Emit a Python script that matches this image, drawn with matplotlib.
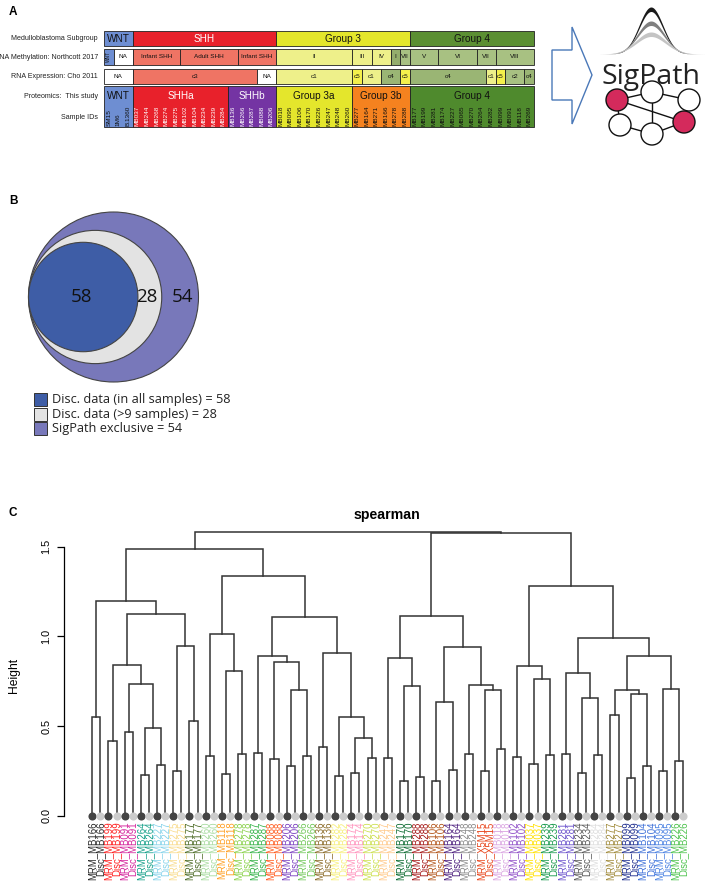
import numpy as np
import matplotlib
matplotlib.use("Agg")
import matplotlib.pyplot as plt
from matplotlib.patches import Rectangle, Circle, Polygon

# ---------------- panel A data ----------------
subgroups = ["WNT", "SHH", "Group 3", "Group 4"]
subgroup_n = [3, 15, 14, 13]
meth_labels = ["WNT", "NA", "Infant SHH", "Adult SHH", "Infant SHH", "II", "III", "IV", "I", "VII",
               "V", "VI", "VII", "VIII"]
meth_n = [1, 2, 5, 6, 4, 8, 2, 2, 1, 1, 3, 4, 2, 4]
rna_labels = ["NA", "c3", "NA", "c1", "c5", "c1", "c4", "c5", "c4", "c1", "c5", "c2", "c4"]
rna_n = [3, 13, 2, 8, 1, 2, 2, 1, 8, 1, 1, 2, 1]
prot_groups = ["WNT", "SHHa", "SHHb", "Group 3a", "Group 3b", "Group 4"]
prot_ids = [
    ["SM15", "1M6", "B.1360"],
    ["MB037", "MB244", "MB268", "MB274", "MB275", "MB102", "MB104", "MB234", "MB239", "MB284"],
    ["MB136", "MB266", "MB287", "MB088", "MB206"],
    ["MB018", "MB095", "MB106", "MB170", "MB226", "MB247", "MB248", "MB260"],
    ["MB277", "MB164", "MB271", "MB166", "MB278", "MB288"],
    ["MB177", "MB199", "MB281", "MB174", "MB227", "MB065", "MB270", "MB264", "MB282", "MB099",
     "MB091", "MB118", "MB269"],
]
row_names = ["Medulloblastoma Subgroup", "DNA Methylation: Northcott 2017", "RNA Expression: Cho 2011",
             "Proteomics:  This study", "Sample IDs"]

# ---------------- panel B data ----------------
venn_labels = ["Disc. data (in all samples)", "Disc. data (>9 samples)", "SigPath exclusive"]
venn_counts = [58, 28, 54]

# ---------------- panel C data ----------------
pair_ids = ["MB166", "MB199", "MB091", "MB264", "MB227", "MB275", "MB177", "MB260", "MB118", "MB278",
            "MB287", "MB088", "MB206", "MB266", "MB136", "MB282", "MB174", "MB270", "MB247", "MB170",
            "MB288", "MB106", "MB164", "MB248", "X5M15", "MB018", "MB102", "MB037", "MB239", "MB281",
            "MB234", "MB284", "MB277", "MB099", "MB104", "MB095", "MB226"]
pair_height = [0.55, 0.42, 0.47, 0.226, 0.284, 0.252, 0.53, 0.332, 0.232, 0.343,
               0.353, 0.316, 0.277, 0.334, 0.384, 0.223, 0.238, 0.321, 0.325, 0.197,
               0.219, 0.195, 0.256, 0.343, 0.249, 0.371, 0.330, 0.288, 0.342, 0.347,
               0.238, 0.342, 0.564, 0.213, 0.280, 0.249, 0.304]
pair_color = ["#262626", "#ff1f1f", "#d4229b", "#16a089", "#86d3ea", "#f9dc8e", "#4d6b26", "#a8dca0",
              "#ffa024", "#8cd24e", "#36b34a", "#ff5b1e", "#7b41c0", "#72c85a", "#8a6a27", "#f7ef7b",
              "#ff93bd", "#cde052", "#ffca8c", "#0c6a30", "#a51818", "#b3561b", "#4a1c7c", "#8c8c8c",
              "#e8461c", "#dba6e2", "#9050c8", "#ffe100", "#17994b", "#6b52cc", "#565656", "#dedede",
              "#a08a3a", "#1f2e8e", "#3c6fd8", "#4b82e2", "#4dc34d"]
# merges: node ids 0..36 are the pairs, new nodes get ids from 37 upward
merge_a = [3, 2, 1, 5, 39, 0, 8, 7, 12, 11, 10, 16, 15, 14, 47, 44, 42,
           19, 18, 21, 24, 23, 56, 55, 27, 26, 30, 29, 33, 32, 35, 66, 64, 62, 60, 53]
merge_b = [4, 37, 38, 6, 40, 41, 9, 43, 13, 45, 46, 17, 48, 49, 50, 51, 52,
           20, 54, 22, 25, 57, 58, 59, 28, 61, 31, 63, 34, 65, 36, 67, 68, 69, 70, 71]
merge_h = [0.49, 0.733, 0.84, 0.947, 1.123, 1.197, 0.808, 1.014, 0.70, 0.856, 0.891, 0.436, 0.553,
           0.91, 1.108, 1.335, 1.487, 0.722, 0.878, 0.637, 0.704, 0.728, 0.943, 1.116, 0.761, 0.834,
           0.655, 0.798, 0.678, 0.702, 0.709, 0.893, 0.993, 1.283, 1.574, 1.583]

# ---------------- styles ----------------
cell_colors = {
    "WNT": "#6e8ed2", "SHH": "#e8212b", "Group 3": "#e4e62c", "Group 4": "#5b8f33",
    "NA": "#ffffff", "Infant SHH": "#ef7464", "Adult SHH": "#ef7464",
    "II": "#eef08a", "III": "#eef08a", "IV": "#eef08a", "I": "#94ad6c",
    "V": "#a8c182", "VI": "#a8c182", "VII": "#a8c182", "VIII": "#a8c182",
    "c1": "#eef08a", "c3": "#ef7464", "c5": "#f4f04c", "c4": "#9ab574", "c2": "#a8c182",
}
prot_colors = {"WNT": "#6e8ed2", "SHHa": "#e8212b", "SHHb": "#7434a3", "Group 3a": "#e4e62c",
               "Group 3b": "#f5821f", "Group 4": "#4f8a2d"}
white_text = {"SHH", "SHHa", "SHHb"}
ARIAL = "Liberation Sans"
SEGOE = "Open Sans"

fig = plt.figure(figsize=(7.05, 8.86), dpi=100)
ax0 = fig.add_axes([0, 0, 1, 1])
ax0.set_xlim(0, 705)
ax0.set_ylim(886, 0)
ax0.axis("off")

X0, X1 = 104, 534
n_samples = sum(len(g) for g in prot_ids)
CW = (X1 - X0) / n_samples
EDGE = "#222222"


def draw_row(labels, counts, y0, y1, fs, colors, text_y=None):
    start = 0
    for lab, n in zip(labels, counts):
        x = X0 + start * CW
        w = n * CW
        ax0.add_patch(Rectangle((x, y0), w, y1 - y0, facecolor=colors[lab], edgecolor=EDGE, lw=0.6))
        ty = (y0 + y1) / 2 if text_y is None else text_y
        col = "white" if lab in white_text else "#111111"
        if n == 1 and lab == "WNT":
            ax0.text(x + w / 2, ty, lab, fontsize=3.4, family=ARIAL, rotation=90,
                     ha="center", va="center", color=col)
        else:
            ax0.text(x + w / 2, ty, lab, fontsize=fs, family=ARIAL, ha="center", va="center", color=col)
        start += n


ax0.text(13, 12, "A", fontsize=8.5, fontweight="bold", family=ARIAL, ha="center", va="center")
draw_row(subgroups, subgroup_n, 31, 46, 7.2, cell_colors)
draw_row(meth_labels, meth_n, 48.5, 65, 4.6, cell_colors)
draw_row(rna_labels, rna_n, 68.5, 83.5, 4.6, cell_colors)
draw_row(prot_groups, [len(g) for g in prot_ids], 86, 127, 7.2, prot_colors, text_y=96)

start = 0
for grp, ids in zip(prot_groups, prot_ids):
    col = "white" if grp in white_text else "#111111"
    for sid in ids:
        ax0.text(X0 + (start + 0.5) * CW, 125.5, sid, fontsize=4.6, family=ARIAL, rotation=90,
                 ha="center", va="bottom", color=col)
        start += 1

# the left edge of the methylation label runs off the page, as in the source figure
for name, y in zip(row_names, [38.5, 57, 76, 96, 117]):
    ax0.text(98, y, name, fontsize=5.1, family=ARIAL, ha="right", va="center", color="#222222")

# arrow
ax0.add_patch(Polygon([(552, 50), (572, 50), (572, 27), (592, 75), (572, 124), (572, 100), (552, 100)],
                      closed=True, facecolor="white", edgecolor="#4a78b8", lw=1.0))

# SigPath logo
xs = np.linspace(600, 705, 300)
for amp, sig, col in [(47, 17, "#1a1a1a"), (33, 19, "#808080"), (22, 21, "#c4c4c4")]:
    top = 54 - amp * np.exp(-((xs - 651) / sig) ** 2)
    bot = 54 - (amp - 4.5) * np.exp(-((xs - 651) / (sig * 0.98)) ** 2)
    ax0.fill_between(xs, top, bot, color=col, lw=0)
ax0.text(651, 84, "SigPath", fontsize=20.5, family=SEGOE, ha="center", va="baseline", color="#222222")
nodes = {"L": (617, 100), "T": (652, 92), "R": (689, 100), "BL": (620, 125), "BR": (684, 122),
         "B": (652, 134)}
edges = [("L", "T"), ("T", "R"), ("T", "B"), ("L", "BL"), ("BL", "B"), ("B", "BR"), ("R", "BR"),
         ("L", "BR")]
for a, b in edges:
    ax0.plot([nodes[a][0], nodes[b][0]], [nodes[a][1], nodes[b][1]], color="#111111", lw=1.0, zorder=2)
for k, (x, y) in nodes.items():
    fc = "#d42a5c" if k in ("L", "BR") else "white"
    ax0.add_patch(Circle((x, y), 11, facecolor=fc, edgecolor="#111111", lw=1.0, zorder=3))

# ---------------- panel B ----------------
ax0.text(13, 201, "B", fontsize=8.5, fontweight="bold", family=ARIAL, ha="center", va="center")
venn_fill = ["#3e5da6", "#e3e3e3", "#7878ba"]
cum = np.cumsum(venn_counts)
R_out = 85
radii = R_out * np.sqrt(cum / cum[-1])
left_edge, cy = 28.5, 297
for r, fc in zip(radii[::-1], venn_fill[::-1]):
    ax0.add_patch(Circle((left_edge + r, cy), r, facecolor=fc, edgecolor="#444444", lw=0.8))
rights = left_edge + 2 * radii
text_x = [left_edge + radii[0] - 2, (rights[0] + rights[1]) / 2 - 3, (rights[1] + rights[2]) / 2 + 2]
for tx, v in zip(text_x, venn_counts):
    ax0.text(tx, cy, str(v), fontsize=13.5, family=SEGOE, ha="center", va="center", color="#111111")
for i, (lab, v) in enumerate(zip(venn_labels, venn_counts)):
    y = 399.5 + i * 14.7
    ax0.add_patch(Rectangle((34, y - 6.5), 13, 13, facecolor=venn_fill[i], edgecolor="#333333", lw=0.7))
    ax0.text(52, y, f"{lab} = {v}", fontsize=9.2, family=SEGOE, ha="left", va="center", color="#222222")

# ---------------- panel C ----------------
ax0.text(13, 513, "C", fontsize=8.5, fontweight="bold", family=ARIAL, ha="center", va="center")
ax = fig.add_axes([64 / 705, (886 - 830) / 886, 636 / 705, 305 / 886])
ax.patch.set_visible(False)
LINE = "#333333"
node_x, node_h = {}, {}
for k, h in enumerate(pair_height):
    xa, xb = 2 * k, 2 * k + 1
    ax.plot([xa, xa, xb, xb], [0, h, h, 0], color=LINE, lw=1.1, solid_joinstyle="miter")
    node_x[k] = (xa + xb) / 2
    node_h[k] = h
for j, (a, b, h) in enumerate(zip(merge_a, merge_b, merge_h)):
    nid = len(pair_height) + j
    ax.plot([node_x[a], node_x[a], node_x[b], node_x[b]], [node_h[a], h, h, node_h[b]],
            color=LINE, lw=1.1, solid_joinstyle="miter")
    node_x[nid] = (node_x[a] + node_x[b]) / 2
    node_h[nid] = h

for k, (pid, col) in enumerate(zip(pair_ids, pair_color)):
    ax.scatter([2 * k], [0], s=34, color="#444444", zorder=3, linewidths=0)
    ax.scatter([2 * k + 1], [0], s=34, color="#cccccc", zorder=3, linewidths=0)
    ax.text(2 * k, -0.032, f"MRM_{pid}", rotation=90, ha="center", va="top", fontsize=6.9,
            family=ARIAL, color=col)
    ax.text(2 * k + 1, -0.032, f"Disc_{pid}", rotation=90, ha="center", va="top", fontsize=6.9,
            family=ARIAL, color=col)

ax.set_xlim(-3.496, 75.06)
ax.set_ylim(-0.078, 1.621)
for s in ["top", "right", "bottom"]:
    ax.spines[s].set_visible(False)
ax.spines["left"].set_bounds(0, 1.5)
ax.spines["left"].set_linewidth(0.9)
ax.set_xticks([])
ax.set_yticks([0, 0.5, 1.0, 1.5])
ax.set_yticklabels(["0.0", "0.5", "1.0", "1.5"], rotation=90, va="center", fontsize=7.8, family=ARIAL)
ax.tick_params(axis="y", length=5, width=0.9, pad=4)
ax0.text(14, 675, "Height", rotation=90, fontsize=8.7, family=ARIAL, ha="center", va="center")
ax0.text(387, 519, "spearman", fontsize=10.2, fontweight="bold", family=ARIAL, ha="center", va="baseline")

fig.savefig("out.png", dpi=100)
